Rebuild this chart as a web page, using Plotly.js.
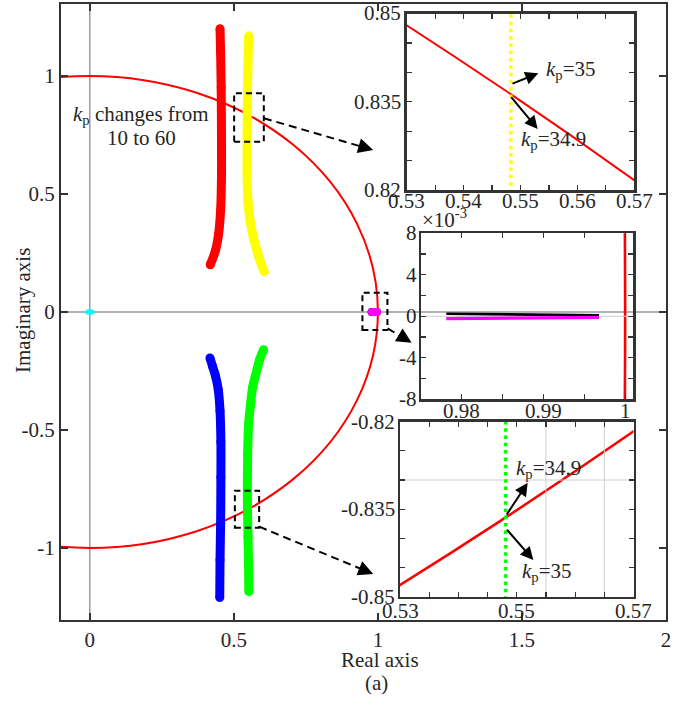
<!DOCTYPE html>
<html>
<head>
<meta charset="utf-8">
<script src="https://cdn.plot.ly/plotly-3.0.1.min.js"></script>
<style>
  html, body { margin: 0; padding: 0; background: #fff; }
  #plot { width: 695px; height: 706px; }
</style>
</head>
<body>
<div id="plot"></div>
<script>
// ---- root-locus branches for kp = 10 ... 60 (real part, imaginary part) ----
const redX    = [0.452, 0.454, 0.456, 0.457, 0.457, 0.454, 0.447, 0.436, 0.418];
const redY    = [1.20, 1.10, 0.95, 0.75, 0.57, 0.43, 0.33, 0.26, 0.20];
const yellowX = [0.552, 0.549, 0.547, 0.546, 0.546, 0.549, 0.556, 0.567, 0.580, 0.593, 0.606];
const yellowY = [1.17, 1.05, 0.90, 0.75, 0.60, 0.47, 0.39, 0.32, 0.26, 0.21, 0.17];
const blueX   = [0.417, 0.426, 0.436, 0.446, 0.452, 0.455, 0.455, 0.454, 0.452, 0.451];
const blueY   = [-0.195, -0.23, -0.27, -0.33, -0.42, -0.55, -0.70, -0.90, -1.05, -1.21];
const greenX  = [0.603, 0.590, 0.575, 0.565, 0.557, 0.551, 0.548, 0.547, 0.549, 0.551, 0.552];
const greenY  = [-0.16, -0.20, -0.27, -0.32, -0.40, -0.48, -0.60, -0.80, -0.95, -1.08, -1.185];
const cyanX   = [-0.008, 0.0, 0.008];
const cyanY   = [0, 0, 0];
const blackX  = [0.9781, 0.984, 0.990, 0.9968];
const blackY  = [0.00025, 0.0002, 0.00012, 0.0001];
const magentaX = [0.9781, 0.984, 0.990, 0.9968];
const magentaY = [-0.00022, -0.00018, -0.00013, -0.0001];

// zoomed samples of the yellow and green branches around kp = 35
const yellowZoomX = [0.5483, 0.5483];
const yellowZoomY = [0.8195, 0.8505];
const greenZoomX  = [0.5481, 0.5481];
const greenZoomY  = [-0.8505, -0.8195];

// stability boundary: unit circle
const circleCenter = [0, 0];
const circleRadius = 1;

// ---- tick values and labels ----
const mainXTicks = [0, 0.5, 1, 1.5, 2];
const mainXLabels = ['0', '0.5', '1', '1.5', '2'];
const mainYTicks = [-1, -0.5, 0, 0.5, 1];
const mainYLabels = ['-1', '-0.5', '0', '0.5', '1'];

const zoomUpXTicks  = [0.53, 0.535, 0.54, 0.545, 0.55, 0.555, 0.56, 0.565, 0.57];
const zoomUpXLabels = ['0.53', '', '0.54', '', '0.55', '', '0.56', '', '0.57'];
const zoomUpYTicks  = [0.82, 0.825, 0.83, 0.835, 0.84, 0.845, 0.85];
const zoomUpYLabels = ['0.82', '', '', '0.835', '', '', '0.85'];

const zoomMidXTicks  = [0.975, 0.98, 0.985, 0.99, 0.995, 1];
const zoomMidXLabels = ['', '0.98', '', '0.99', '', '1'];
const zoomMidYTicks  = [-0.008, -0.006, -0.004, -0.002, 0, 0.002, 0.004, 0.006, 0.008];
const zoomMidYLabels = ['-8', '', '-4', '', '0', '', '4', '', '8'];

const zoomLowXTicks  = [0.53, 0.535, 0.54, 0.545, 0.55, 0.555, 0.56, 0.565, 0.57];
const zoomLowXLabels = ['0.53', '', '', '', '0.55', '', '', '', '0.57'];
const zoomLowYTicks  = [-0.85, -0.845, -0.84, -0.835, -0.83, -0.825, -0.82];
const zoomLowYLabels = ['-0.85', '', '', '-0.835', '', '', '-0.82'];

// ---- styling ----
const serif = '"Liberation Serif", "Times New Roman", Times, serif';
const textColor = '#262626';
const frameColor = '#333333';
const W = 695, H = 706;

function band(x, y, color, xa, ya) {
  return {
    x: x, y: y, xaxis: xa, yaxis: ya, type: 'scatter', mode: 'lines+markers',
    line: { color: color, width: 9, shape: 'spline' },
    marker: { color: color, size: 9 },
    hoverinfo: 'skip', showlegend: false
  };
}
function thin(x, y, color, width, xa, ya, dash) {
  return {
    x: x, y: y, xaxis: xa, yaxis: ya, type: 'scatter', mode: 'lines',
    line: { color: color, width: width, dash: dash || 'solid' },
    hoverinfo: 'skip', showlegend: false
  };
}

const traces = [
  band(redX, redY, '#ff0000', 'x', 'y'),
  band(yellowX, yellowY, '#ffff00', 'x', 'y'),
  band(blueX, blueY, '#0000ff', 'x', 'y'),
  band(greenX, greenY, '#00ff00', 'x', 'y'),
  {
    x: cyanX, y: cyanY, xaxis: 'x', yaxis: 'y', type: 'scatter', mode: 'lines+markers',
    line: { color: '#00ffff', width: 5 }, marker: { color: '#00ffff', size: 5 },
    hoverinfo: 'skip', showlegend: false
  },
  {
    x: blackX, y: blackY, xaxis: 'x', yaxis: 'y', type: 'scatter', mode: 'lines+markers',
    line: { color: '#000', width: 8 }, marker: { color: '#000', size: 8 },
    hoverinfo: 'skip', showlegend: false
  },
  {
    x: magentaX, y: magentaY, xaxis: 'x', yaxis: 'y', type: 'scatter', mode: 'lines+markers',
    line: { color: '#ff00ff', width: 8 }, marker: { color: '#ff00ff', size: 8 },
    hoverinfo: 'skip', showlegend: false
  },
  // upper zoom
  thin(yellowZoomX, yellowZoomY, '#ffff00', 3.5, 'x2', 'y2', '3.5px,3.8px'),
  // middle zoom
  thin(blackX, blackY, '#000000', 2.6, 'x3', 'y3'),
  thin(magentaX, magentaY, '#ff00ff', 3.2, 'x3', 'y3'),
  // lower zoom
  thin(greenZoomX, greenZoomY, '#00ff00', 3.5, 'x4', 'y4', '3.5px,3.8px')
];

function circle(xref, yref, width) {
  return {
    type: 'circle', xref: xref, yref: yref, layer: 'below',
    x0: circleCenter[0] - circleRadius, x1: circleCenter[0] + circleRadius,
    y0: circleCenter[1] - circleRadius, y1: circleCenter[1] + circleRadius,
    line: { color: '#ff0000', width: width }
  };
}
function dashedBox(x0, x1, y0, y1) {
  return {
    type: 'rect', xref: 'x', yref: 'y', layer: 'above', x0: x0, x1: x1, y0: y0, y1: y1,
    line: { color: '#000', width: 2, dash: '6px,4px' }
  };
}
function dashedLine(x0, y0, x1, y1) {
  return {
    type: 'line', xref: 'x', yref: 'y', layer: 'above', x0: x0, y0: y0, x1: x1, y1: y1,
    line: { color: '#000', width: 2, dash: '8px,5px' }
  };
}
function gridLine(xref, yref, x0, y0, x1, y1) {
  return {
    type: 'line', xref: xref, yref: yref, layer: 'below', x0: x0, y0: y0, x1: x1, y1: y1,
    line: { color: '#cfcfcf', width: 1 }
  };
}

const shapes = [
  // axes through the origin of the z-plane
  { type: 'line', xref: 'x', yref: 'y domain', layer: 'below', x0: 0, x1: 0, y0: 0, y1: 1,
    line: { color: '#8c8c8c', width: 1.3 } },
  { type: 'line', xref: 'x domain', yref: 'y', layer: 'below', x0: 0, x1: 1, y0: 0, y1: 0,
    line: { color: '#999999', width: 1.5 } },
  circle('x', 'y', 2),
  circle('x2', 'y2', 2),
  circle('x3', 'y3', 2.6),
  circle('x4', 'y4', 2.5),
  gridLine('x3', 'y3', 0.975, 0, 1.001, 0),
  gridLine('x4', 'y4', 0.555, -0.85, 0.555, -0.82),
  gridLine('x4', 'y4', 0.565, -0.85, 0.565, -0.82),
  gridLine('x4', 'y4', 0.53, -0.83, 0.57, -0.83),
  dashedBox(0.501, 0.604, 0.7216, 0.9267),
  dashedBox(0.9462, 1.033, -0.0763, 0.0818),
  dashedBox(0.5035, 0.5878, -0.914, -0.7572),
  dashedLine(0.6042, 0.8208, 0.970, 0.6912),
  dashedLine(1.0337, -0.0691, 1.105, -0.1230),
  dashedLine(0.5879, -0.9097, 0.970, -1.1030)
];

const FS = 21;
const lbl = { family: serif, size: FS, color: textColor };

function kpLabel(text, xref, yref, x, y) {
  return { text: text, xref: xref, yref: yref, x: x, y: y, xanchor: 'left', yanchor: 'middle',
           showarrow: false, font: lbl };
}
function solidArrow(xref, yref, x, y, ax, ay) {
  return { text: '', xref: xref, yref: yref, axref: xref, ayref: yref, x: x, y: y, ax: ax, ay: ay,
           showarrow: true, arrowhead: 2, arrowsize: 1.3, arrowwidth: 2, arrowcolor: '#000' };
}
function headOnly(x, y, ax, ay) {
  return { text: '', xref: 'x', yref: 'y', x: x, y: y, ax: ax, ay: ay,
           showarrow: true, arrowhead: 2, arrowsize: 1.5, arrowwidth: 2, arrowcolor: '#000' };
}

// tick labels of the zoomed views, set close to their frames
function xTickText(vals, texts, xref, yPx) {
  const out = [];
  vals.forEach((v, i) => {
    if (!texts[i]) return;
    out.push({ text: texts[i], xref: xref, yref: 'paper', x: v, y: 1 - yPx / H,
               xanchor: 'center', yanchor: 'middle', showarrow: false, font: lbl });
  });
  return out;
}
function yTickText(vals, texts, yref, xPx) {
  const out = [];
  vals.forEach((v, i) => {
    if (!texts[i]) return;
    out.push({ text: texts[i], xref: 'paper', yref: yref, x: xPx / W, y: v,
               xanchor: 'right', yanchor: 'middle', showarrow: false, font: lbl });
  });
  return out;
}

const annotations = [
  { text: '<i>k</i><sub>p</sub> changes from', xref: 'x', yref: 'y', x: 0.176, y: 0.835,
    xanchor: 'center', yanchor: 'middle', showarrow: false, font: lbl },
  { text: '10 to 60', xref: 'x', yref: 'y', x: 0.179, y: 0.737,
    xanchor: 'center', yanchor: 'middle', showarrow: false, font: lbl },
  headOnly(0.9837, 0.6864, -11.5, -3.4),
  headOnly(1.117, -0.130, -10.3, -6.2),
  headOnly(0.9837, -1.1102, -11.1, -4.6),
  solidArrow('x2', 'y2', 0.55313, 0.83984, 0.54833, 0.83797),
  solidArrow('x2', 'y2', 0.55302, 0.83037, 0.54815, 0.83603),
  kpLabel('<i>k</i><sub>p</sub>=35', 'x2', 'y2', 0.5541, 0.8404),
  kpLabel('<i>k</i><sub>p</sub>=34.9', 'x2', 'y2', 0.5497, 0.8285),
  solidArrow('x4', 'y4', 0.55188, -0.83046, 0.54811, -0.83617),
  solidArrow('x4', 'y4', 0.55284, -0.84371, 0.54811, -0.83827),
  kpLabel('<i>k</i><sub>p</sub>=34.9', 'x4', 'y4', 0.5495, -0.8281),
  kpLabel('<i>k</i><sub>p</sub>=35', 'x4', 'y4', 0.5506, -0.8457),
  { text: '×10<sup>-3</sup>', xref: 'paper', yref: 'paper', x: 420 / W, y: 1 - 234 / H,
    xanchor: 'left', yanchor: 'bottom', showarrow: false, font: lbl },
  { text: 'Real axis', xref: 'paper', yref: 'paper', x: 380 / W, y: 1 - 660 / H,
    xanchor: 'center', yanchor: 'middle', showarrow: false, font: lbl },
  { text: '(a)', xref: 'paper', yref: 'paper', x: 376 / W, y: 1 - 683 / H,
    xanchor: 'center', yanchor: 'middle', showarrow: false, font: lbl },
  { text: 'Imaginary axis', xref: 'paper', yref: 'paper', x: 23 / W, y: 1 - 311 / H,
    xanchor: 'center', yanchor: 'middle', textangle: -90, showarrow: false, font: lbl }
].concat(
  xTickText(zoomUpXTicks, zoomUpXLabels, 'x2', 201),
  yTickText(zoomUpYTicks, zoomUpYLabels, 'y2', 403),
  xTickText(zoomMidXTicks, zoomMidXLabels, 'x3', 411),
  yTickText(zoomMidYTicks, zoomMidYLabels, 'y3', 419),
  xTickText(zoomLowXTicks, zoomLowXLabels, 'x4', 611),
  yTickText(zoomLowYTicks, zoomLowYLabels, 'y4', 397)
);

function axis(extra, inset) {
  return Object.assign({
    showgrid: false, zeroline: false, showline: true, mirror: 'ticks',
    linecolor: frameColor, linewidth: inset ? 2.5 : 2,
    ticks: 'inside', ticklen: inset ? 5 : 7, tickwidth: inset ? 1.2 : 1.5, tickcolor: frameColor,
    tickmode: 'array', tickfont: lbl, fixedrange: true, showticklabels: !inset
  }, extra);
}

const layout = {
  width: W, height: H,
  margin: { l: 0, r: 0, t: 0, b: 0 },
  paper_bgcolor: '#ffffff',
  plot_bgcolor: 'rgba(0,0,0,0)',
  showlegend: false,
  font: { family: serif, size: FS, color: textColor },
  xaxis: axis({ domain: [61 / W, 666 / W], range: [-0.1, 2], anchor: 'y',
                tickvals: mainXTicks, ticktext: mainXLabels }, false),
  yaxis: axis({ domain: [1 - 620 / H, 1 - 3.5 / H], range: [-1.305, 1.307], anchor: 'x',
                tickvals: mainYTicks, ticktext: mainYLabels }, false),
  xaxis2: axis({ domain: [406.7 / W, 634.3 / W], range: [0.53, 0.57], anchor: 'y2',
                 tickvals: zoomUpXTicks, ticktext: zoomUpXLabels }, true),
  yaxis2: axis({ domain: [1 - 190 / H, 1 - 13.5 / H], range: [0.82, 0.85], anchor: 'x2',
                 tickvals: zoomUpYTicks, ticktext: zoomUpYLabels }, true),
  xaxis3: axis({ domain: [421 / W, 633.3 / W], range: [0.975, 1.001], anchor: 'y3',
                 tickvals: zoomMidXTicks, ticktext: zoomMidXLabels }, true),
  yaxis3: axis({ domain: [1 - 399.3 / H, 1 - 233.3 / H], range: [-0.008, 0.008], anchor: 'x3',
                 tickvals: zoomMidYTicks, ticktext: zoomMidYLabels }, true),
  xaxis4: axis({ domain: [400 / W, 633.5 / W], range: [0.53, 0.57], anchor: 'y4',
                 tickvals: zoomLowXTicks, ticktext: zoomLowXLabels }, true),
  yaxis4: axis({ domain: [1 - 596.7 / H, 1 - 421.7 / H], range: [-0.85, -0.82], anchor: 'x4',
                 tickvals: zoomLowYTicks, ticktext: zoomLowYLabels }, true),
  shapes: shapes,
  annotations: annotations
};

Plotly.newPlot('plot', traces, layout, { displayModeBar: false, staticPlot: true });
</script>
</body>
</html>
